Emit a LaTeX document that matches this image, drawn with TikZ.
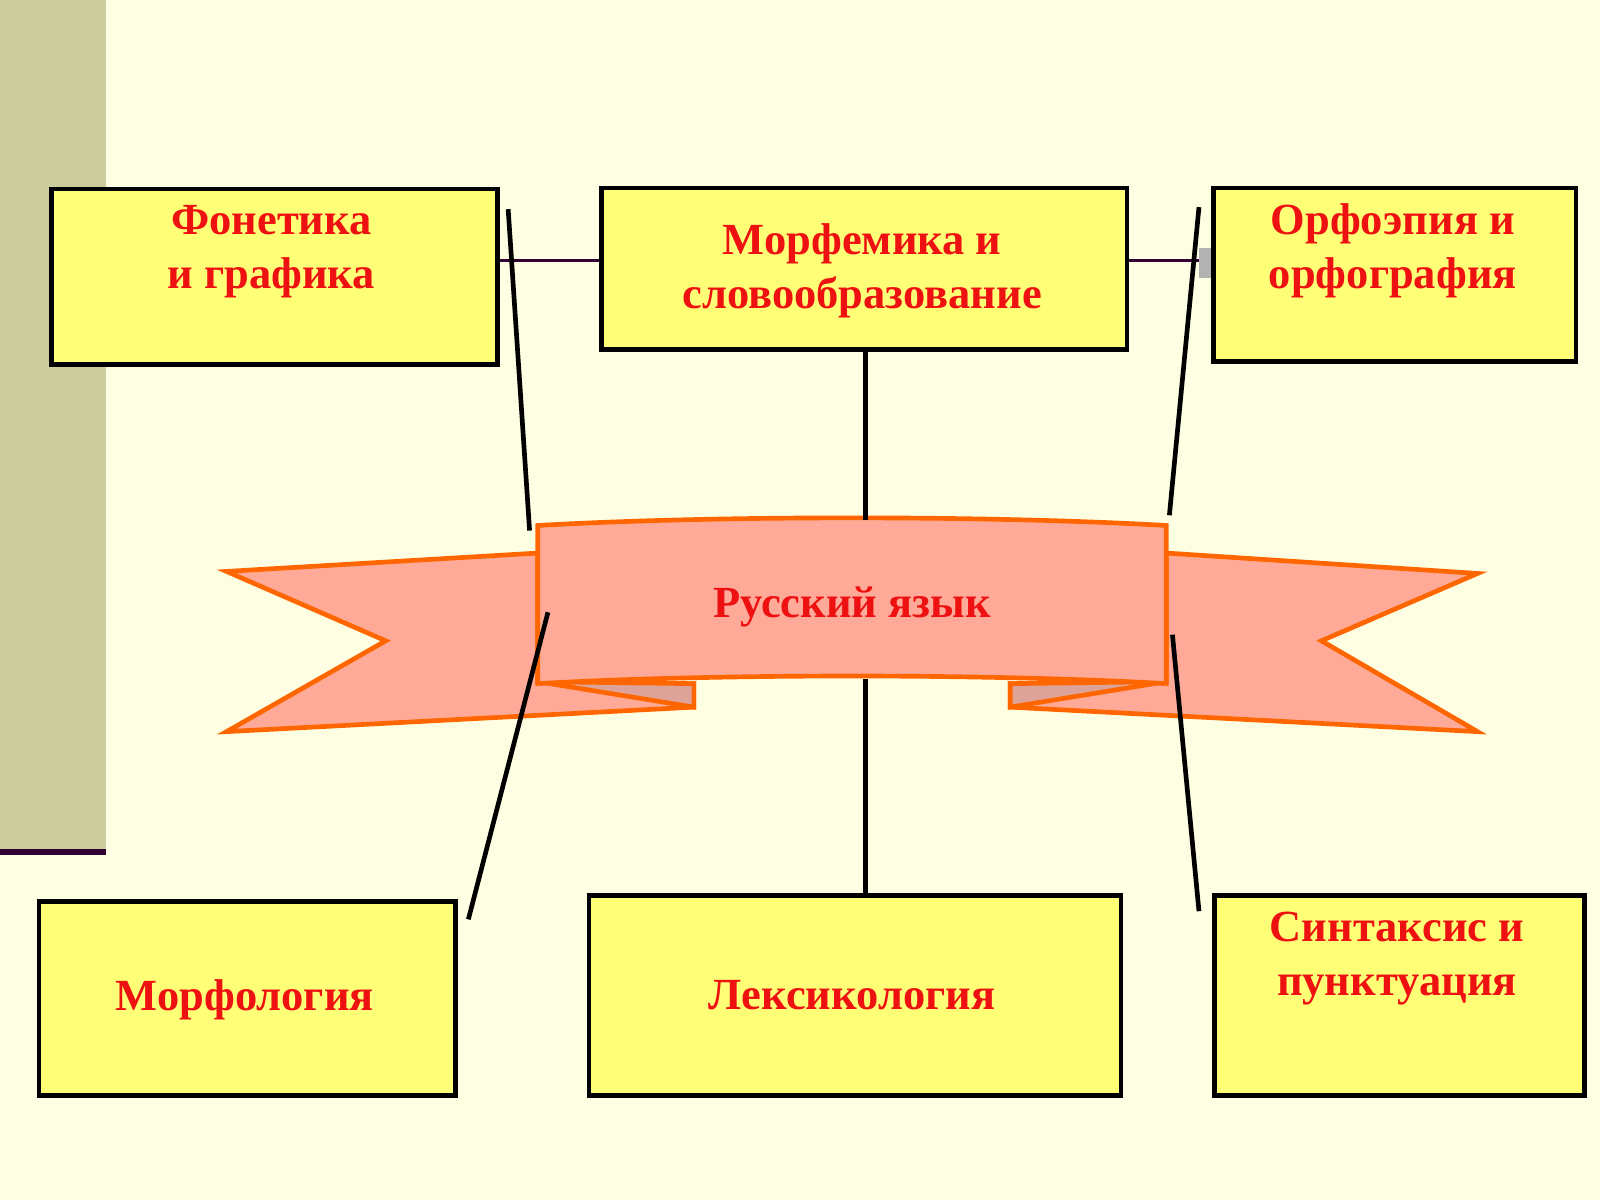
\documentclass[tikz,border=0pt]{standalone}
\usepackage{fontspec}
\setmainfont{Liberation Serif}
\definecolor{bgyel}{HTML}{FEFEE2}
\definecolor{strip}{HTML}{CCCC9E}
\definecolor{boxyel}{HTML}{FFFF77}
\definecolor{ribfill}{HTML}{FFAA99}
\definecolor{ribfold}{HTML}{DDA399}
\definecolor{ribline}{HTML}{FF6600}
\definecolor{txtred}{HTML}{EE1111}
\definecolor{thinpur}{HTML}{330033}
\tikzset{
  topic/.style={draw=black, line width=1.3pt, fill=boxyel, anchor=north west,
    inner sep=0pt, text=txtred, align=center, font=\fontsize{12.4}{15}\selectfont\bfseries},
  words/.style={text=txtred, align=center, font=\fontsize{12.4}{15}\selectfont\bfseries},
  link/.style={line width=1.3pt, black},
  ribbon/.style={draw=ribline, line width=1.3pt, fill=ribfill, line join=miter}
}
\begin{document}
\begin{tikzpicture}[x=0.01cm,y=-0.01cm]
	\useasboundingbox (0,0) rectangle (1568,1176);
	\fill[bgyel] (0,0) rectangle (1568,1176);
	
	% left strip
	\fill[strip] (0,0) rectangle (104,835);
	\draw[thinpur, line width=1.5pt] (0,835) -- (104,835);
	
	% boxes
	\node[topic, minimum width=4.37cm, minimum height=1.72cm] (phon) at (48,183) {};
	\node[words] at (266,247) {Фонетика\\и графика};
	\node[topic, minimum width=5.15cm, minimum height=1.58cm] (morph) at (587,182) {};
	\node[words] at (845,265) {Морфемика и\\словообразование};
	\node[topic, minimum width=3.55cm, minimum height=1.70cm] (orth) at (1187,182) {};
	\node[words] at (1365,246) {Орфоэпия и\\орфография};
	\node[topic, minimum width=4.08cm, minimum height=1.90cm] (morf) at (36,881) {};
	\node[words] at (240,980) {Морфология};
	\node[topic, minimum width=5.21cm, minimum height=1.96cm] (lex) at (575,875) {};
	\node[words] at (835,975) {Лексикология};
	\node[topic, minimum width=3.62cm, minimum height=1.96cm] (synt) at (1188,875) {};
	\node[words] at (1369,939) {Синтаксис и\\пунктуация};
	
	% thin links
	\draw[thinpur, line width=0.8pt] (phon.east |- 0,255) -- (morph.west |- 0,255);
	\draw[thinpur, line width=0.8pt] (morph.east |- 0,255) -- (orth.west |- 0,255);
	\fill[gray!60] (1175,243) rectangle (1187,272);
	
	% ribbon tails
	\draw[ribbon] (527,542) -- (222,560) -- (378,628) -- (222,717) -- (680,693) -- (680,670) -- (527,668) -- cycle;
	\draw[ribbon, fill=ribfold] (527,668) -- (680,670) -- (680,693) -- cycle;
	\draw[ribbon] (1143,542) -- (1448,562) -- (1295,628) -- (1448,717) -- (990,693) -- (990,670) -- (1143,668) -- cycle;
	\draw[ribbon, fill=ribfold] (1143,668) -- (990,670) -- (990,693) -- cycle;
	% ribbon centre
	\draw[ribbon] (527,515) .. controls (700,505) and (970,505) .. (1143,515)
		-- (1143,670) .. controls (970,660) and (700,660) .. (527,670) -- cycle;
	\node[words] (rus) at (835,595) {Русский язык};
	
	% links to the ribbon
	\coordinate (rtop) at (848,510);
	\coordinate (rbot) at (848,665);
	\draw[link] (morph.south -| rtop) -- (rtop);
	\draw[link] (rbot) -- (lex.north -| rbot);
	\draw[link] (498,205) -- (519,520);
	\draw[link] (1175,203) -- (1146,505);
	\draw[link] (537,600) -- (459,901);
	\draw[link] (1149,622) -- (1175,893);
\end{tikzpicture}
\end{document}
